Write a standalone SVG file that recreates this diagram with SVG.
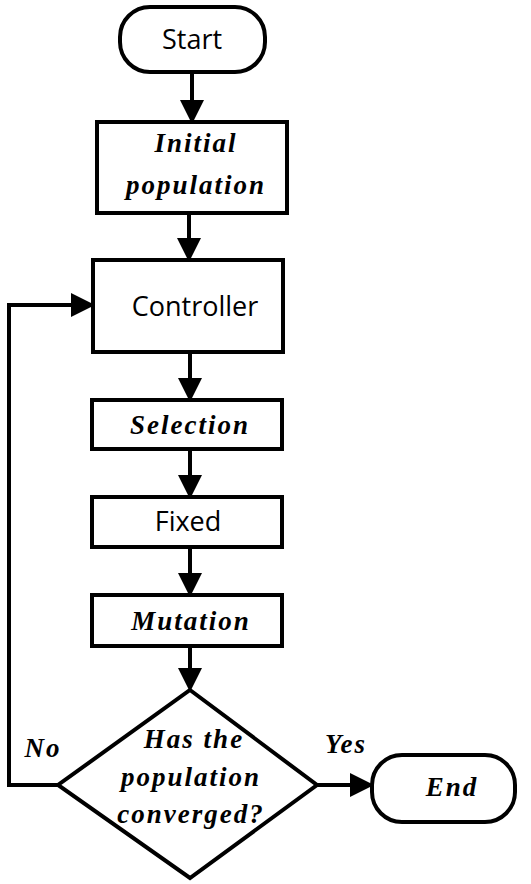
<svg xmlns="http://www.w3.org/2000/svg" width="531" height="884" viewBox="0 0 531 884">
<defs>
<marker id="ah" markerWidth="6" markerHeight="6" refX="5" refY="3" orient="auto" markerUnits="strokeWidth">
<path d="M0,0 L6,3 L0,6 Z" fill="#000"/>
</marker>
<style>
.shape{fill:#fff;stroke:#000;stroke-width:4}
.ln{fill:none;stroke:#000;stroke-width:4}
.sans{font-family:"Open Sans","Noto Sans",sans-serif;font-size:27px;fill:#000;text-anchor:middle}
.math{font-family:"Liberation Serif",serif;font-style:italic;font-weight:bold;font-size:27px;letter-spacing:2px;fill:#000;text-anchor:middle}
</style>
</defs>
<rect width="531" height="884" fill="#fff"/>
<g id="connectors">
<line class="ln" x1="192" y1="72" x2="192" y2="120" marker-end="url(#ah)"/>
<line class="ln" x1="189" y1="213" x2="189" y2="258" marker-end="url(#ah)"/>
<line class="ln" x1="190" y1="352" x2="190" y2="398" marker-end="url(#ah)"/>
<line class="ln" x1="190" y1="449" x2="190" y2="495" marker-end="url(#ah)"/>
<line class="ln" x1="190" y1="547" x2="190" y2="593" marker-end="url(#ah)"/>
<line class="ln" x1="190" y1="646" x2="190" y2="688" marker-end="url(#ah)"/>
<line class="ln" x1="317" y1="785" x2="370" y2="785" marker-end="url(#ah)"/>
<polyline class="ln" points="58,785 9,785 9,305 91,305" marker-end="url(#ah)"/>
<text class="math" x="43" y="757">No</text>
<text class="math" x="346" y="753">Yes</text>
</g>
<g id="start">
<rect class="shape" x="120" y="7" width="145" height="65" rx="30" ry="30"/>
<text class="sans" x="192" y="49">Start</text>
</g>
<g id="initial">
<rect class="shape" x="97" y="122" width="190" height="91"/>
<text class="math" x="196" y="152">Initial</text>
<text class="math" x="196" y="194">population</text>
</g>
<g id="controller">
<rect class="shape" x="93" y="260" width="190" height="92"/>
<text class="sans" x="195" y="316">Controller</text>
</g>
<g id="selection">
<rect class="shape" x="92" y="400" width="190" height="49"/>
<text class="math" x="190" y="434">Selection</text>
</g>
<g id="fixed">
<rect class="shape" x="92" y="497" width="190" height="50"/>
<text class="sans" x="188" y="531">Fixed</text>
</g>
<g id="mutation">
<rect class="shape" x="92" y="595" width="190" height="51"/>
<text class="math" x="191" y="630">Mutation</text>
</g>
<g id="decision">
<polygon class="shape" points="190,690 317,785 190,878 58,785"/>
<text class="math" x="194" y="748">Has the</text>
<text class="math" x="191" y="786">population</text>
<text class="math" x="191" y="823">converged?</text>
</g>
<g id="end">
<rect class="shape" x="372" y="755" width="143" height="67" rx="30" ry="30"/>
<text class="math" x="452" y="796">End</text>
</g>
</svg>
